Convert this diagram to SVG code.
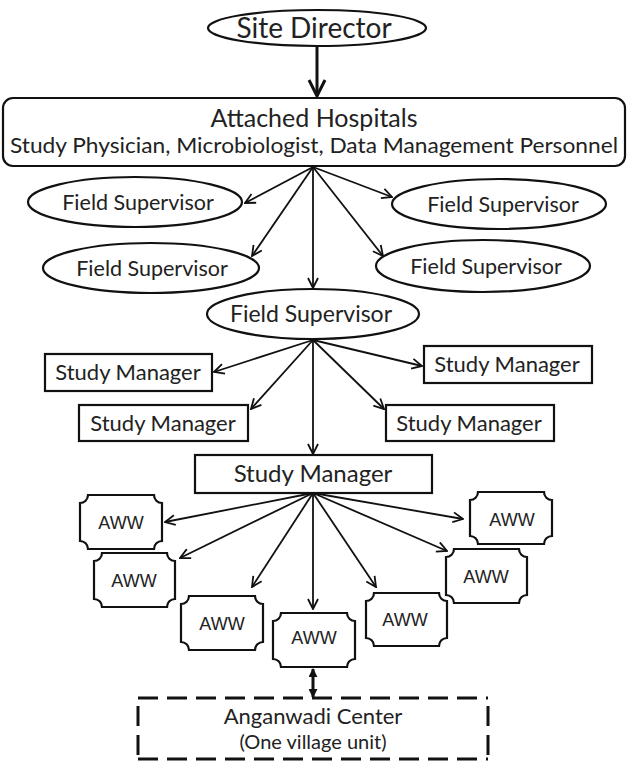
<svg xmlns="http://www.w3.org/2000/svg" width="628" height="763" viewBox="0 0 628 763">
<defs>
<style>
.n{fill:#fff;stroke:#111;stroke-width:2.2}
.t{font-family:Lato,"Open Sans",sans-serif;fill:#222;text-anchor:middle}
.fs{font-size:21.5px}
.sm{font-size:22px}
.a{font-family:"Liberation Sans",Arial,sans-serif;fill:#222;text-anchor:middle;font-size:18px}
.c{stroke:#111;stroke-width:1.8;fill:none;marker-end:url(#v)}
.d{stroke:#111;stroke-width:3;fill:none;stroke-dasharray:20 9}
</style>
<marker id="v" viewBox="0 0 12 12" refX="11" refY="6" markerWidth="12" markerHeight="12" markerUnits="userSpaceOnUse" orient="auto">
<path d="M1,1 L11,6 L1,11" fill="none" stroke="#111" stroke-width="1.8"/>
</marker>
<marker id="vb" viewBox="0 0 20 20" refX="18" refY="10" markerWidth="20" markerHeight="20" markerUnits="userSpaceOnUse" orient="auto">
<path d="M2,2 L18,10 L2,18" fill="none" stroke="#111" stroke-width="3"/>
</marker>
<marker id="f" viewBox="0 0 10 10" refX="9" refY="5" markerWidth="9" markerHeight="9" markerUnits="userSpaceOnUse" orient="auto-start-reverse">
<path d="M0,0 L10,5 L0,10 Z" fill="#111"/>
</marker>
</defs>
<rect width="628" height="763" fill="#fff"/>

<g id="connectors">
<line x1="317" y1="46" x2="317" y2="96" stroke="#111" stroke-width="3" marker-end="url(#vb)"/>
<line class="c" x1="313" y1="167" x2="245" y2="203"/>
<line class="c" x1="313" y1="167" x2="392" y2="197"/>
<line class="c" x1="313" y1="167" x2="252" y2="256"/>
<line class="c" x1="313" y1="167" x2="383" y2="256"/>
<line class="c" x1="313" y1="167" x2="313" y2="288"/>
<line class="c" x1="313" y1="340" x2="214" y2="372"/>
<line class="c" x1="313" y1="340" x2="422" y2="366"/>
<line class="c" x1="313" y1="340" x2="251" y2="409"/>
<line class="c" x1="313" y1="340" x2="384" y2="409"/>
<line class="c" x1="313" y1="340" x2="313" y2="454"/>
<line class="c" x1="313" y1="493" x2="165" y2="522"/>
<line class="c" x1="313" y1="493" x2="180" y2="558"/>
<line class="c" x1="313" y1="493" x2="252" y2="587"/>
<line class="c" x1="313" y1="493" x2="313" y2="609"/>
<line class="c" x1="313" y1="493" x2="376" y2="587"/>
<line class="c" x1="313" y1="493" x2="447" y2="551"/>
<line class="c" x1="313" y1="493" x2="463" y2="519"/>
<line x1="313" y1="669" x2="313" y2="697" stroke="#111" stroke-width="3" marker-start="url(#f)" marker-end="url(#f)"/>
</g>

<g id="site-director">
<ellipse class="n" cx="317" cy="28" rx="109" ry="18"/>
<text class="t" x="314" y="38" font-size="28">Site Director</text>
</g>

<g id="attached-hospitals">
<rect class="n" x="3" y="98" width="622" height="68" rx="10"/>
<text class="t" x="314" y="127" font-size="25">Attached Hospitals</text>
<text class="t" x="314" y="153" font-size="21" textLength="608" lengthAdjust="spacingAndGlyphs">Study Physician, Microbiologist, Data Management Personnel</text>
</g>

<g id="fs1">
<ellipse class="n" cx="135" cy="202" rx="107" ry="25"/>
<text class="t fs" x="138" y="210">Field Supervisor</text>
</g>
<g id="fs2">
<ellipse class="n" cx="499" cy="204" rx="107" ry="25"/>
<text class="t fs" x="503" y="212">Field Supervisor</text>
</g>
<g id="fs3">
<ellipse class="n" cx="151" cy="268" rx="108" ry="25"/>
<text class="t fs" x="152" y="276">Field Supervisor</text>
</g>
<g id="fs4">
<ellipse class="n" cx="483" cy="266" rx="107" ry="26"/>
<text class="t fs" x="486" y="274">Field Supervisor</text>
</g>
<g id="fs5">
<ellipse class="n" cx="313" cy="314" rx="106" ry="25"/>
<text class="t" x="311" y="322" font-size="23">Field Supervisor</text>
</g>

<g id="sm1">
<rect class="n" x="45" y="354" width="167" height="37"/>
<text class="t sm" x="128" y="380">Study Manager</text>
</g>
<g id="sm2">
<rect class="n" x="424" y="346" width="168" height="37"/>
<text class="t sm" x="507" y="372">Study Manager</text>
</g>
<g id="sm3">
<rect class="n" x="79" y="405" width="169" height="36"/>
<text class="t sm" x="163" y="431">Study Manager</text>
</g>
<g id="sm4">
<rect class="n" x="386" y="405" width="168" height="36"/>
<text class="t sm" x="469" y="431">Study Manager</text>
</g>
<g id="sm5">
<rect class="n" x="195" y="455" width="237" height="38"/>
<text class="t" x="313" y="482" font-size="24">Study Manager</text>
</g>

<g id="aww1">
<path class="n" d="M88,495 H154 A8,8 0 0 0 162,503 V541 A8,8 0 0 0 154,549 H88 A8,8 0 0 0 80,541 V503 A8,8 0 0 0 88,495 Z"/>
<text class="a" x="121" y="529">AWW</text>
</g>
<g id="aww2">
<path class="n" d="M102,553 H167 A8,8 0 0 0 175,561 V599 A8,8 0 0 0 167,607 H102 A8,8 0 0 0 94,599 V561 A8,8 0 0 0 102,553 Z"/>
<text class="a" x="134" y="587">AWW</text>
</g>
<g id="aww3">
<path class="n" d="M189,596 H255 A8,8 0 0 0 263,604 V642 A8,8 0 0 0 255,650 H189 A8,8 0 0 0 181,642 V604 A8,8 0 0 0 189,596 Z"/>
<text class="a" x="222" y="630">AWW</text>
</g>
<g id="aww4">
<path class="n" d="M281,613 H347 A8,8 0 0 0 355,621 V659 A8,8 0 0 0 347,667 H281 A8,8 0 0 0 273,659 V621 A8,8 0 0 0 281,613 Z"/>
<text class="a" x="314" y="644">AWW</text>
</g>
<g id="aww5">
<path class="n" d="M374,593 H439 A8,8 0 0 0 447,601 V638 A8,8 0 0 0 439,646 H374 A8,8 0 0 0 366,638 V601 A8,8 0 0 0 374,593 Z"/>
<text class="a" x="405" y="626">AWW</text>
</g>
<g id="aww6">
<path class="n" d="M454,549 H519 A8,8 0 0 0 527,557 V595 A8,8 0 0 0 519,603 H454 A8,8 0 0 0 446,595 V557 A8,8 0 0 0 454,549 Z"/>
<text class="a" x="486" y="583">AWW</text>
</g>
<g id="aww7">
<path class="n" d="M478,492 H544 A8,8 0 0 0 552,500 V536 A8,8 0 0 0 544,544 H478 A8,8 0 0 0 470,536 V500 A8,8 0 0 0 478,492 Z"/>
<text class="a" x="512" y="526">AWW</text>
</g>

<g id="anganwadi-center">
<path class="d" d="M138,698 H488"/>
<path class="d" d="M138,706 V760"/>
<path class="d" d="M488,706 V760"/>
<path class="d" d="M138,759 H488" stroke="#888"/>
<text class="t" x="313" y="724" font-size="22">Anganwadi Center</text>
<text class="t" x="313" y="749" font-size="20">(One village unit)</text>
</g>
</svg>
